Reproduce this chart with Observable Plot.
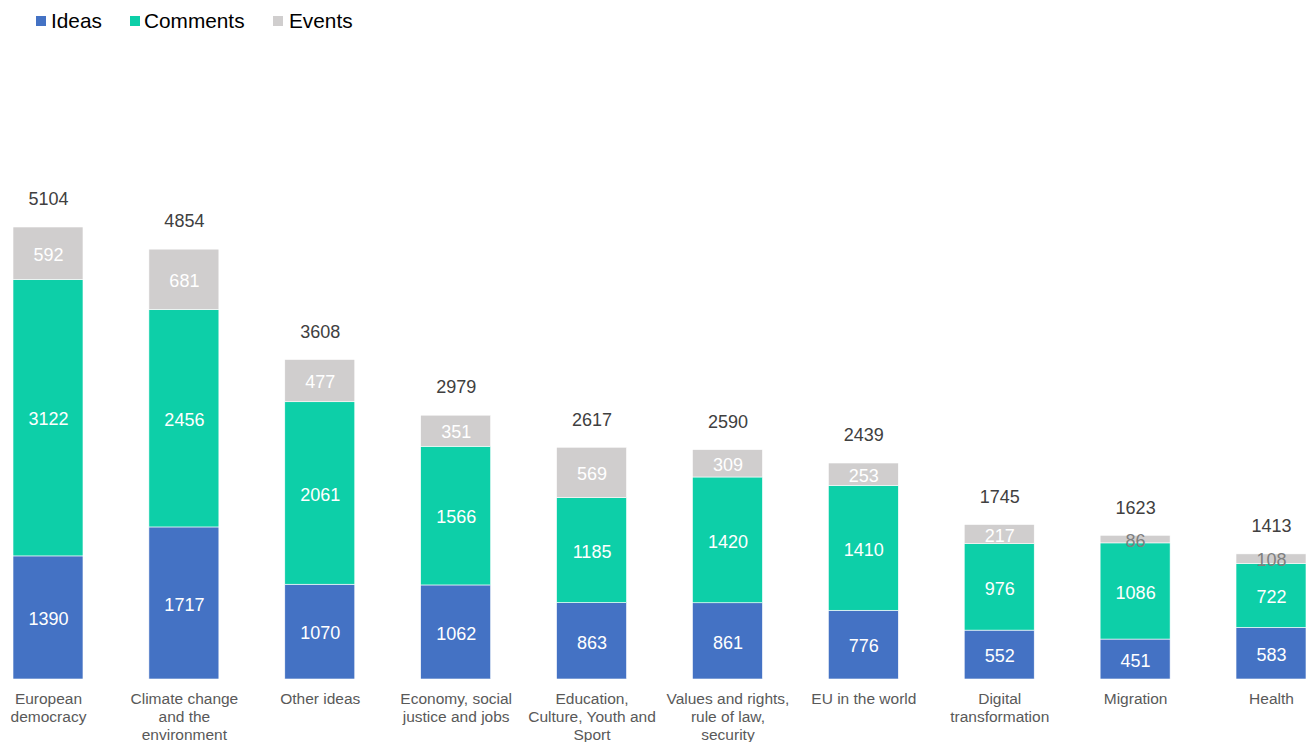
<!DOCTYPE html>
<html>
<head>
<meta charset="utf-8">
<script src="https://cdn.jsdelivr.net/npm/d3@7"></script>
<script src="https://cdn.jsdelivr.net/npm/@observablehq/plot@0.6"></script>
<style>
  html, body { margin: 0; padding: 0; background: #fff; }
  body { width: 1309px; height: 742px; overflow: hidden; font-family: "Liberation Sans", Arial, sans-serif; }
  #legend { position: relative; height: 42px; }
  .sw { position: absolute; top: 16px; width: 10px; height: 10px; }
  .lt { position: absolute; top: 9px; font-size: 20.8px; line-height: 24px; color: #000; }
  #chart svg { display: block; }
</style>
</head>
<body>
<div id="legend"></div>
<div id="chart"></div>
<script>
const categories = ["European democracy", "Climate change and the environment", "Other ideas", "Economy, social justice and jobs", "Education, Culture, Youth and Sport", "Values and rights, rule of law, security", "EU in the world", "Digital transformation", "Migration", "Health"];
const tickLabels = ["European\ndemocracy", "Climate change\nand the\nenvironment", "Other ideas", "Economy, social\njustice and jobs", "Education,\nCulture, Youth and\nSport", "Values and rights,\nrule of law,\nsecurity", "EU in the world", "Digital\ntransformation", "Migration", "Health"];
const series = ["Ideas", "Comments", "Events"];
const ideas = [1390, 1717, 1070, 1062, 863, 861, 776, 552, 451, 583];
const comments = [3122, 2456, 2061, 1566, 1185, 1420, 1410, 976, 1086, 722];
const events = [592, 681, 477, 351, 569, 309, 253, 217, 86, 108];
const totals = [5104, 4854, 3608, 2979, 2617, 2590, 2439, 1745, 1623, 1413];
const colors = ["#4472C4", "#0DCFA8", "#D0CECE"];

// legend
const legend = document.getElementById("legend");
const legendPos = [[36, 51], [130, 144], [273, 289]];
series.forEach((s, i) => {
  const sw = document.createElement("div");
  sw.className = "sw"; sw.style.left = legendPos[i][0] + "px"; sw.style.background = colors[i];
  const t = document.createElement("div");
  t.className = "lt"; t.style.left = legendPos[i][1] + "px"; t.textContent = s;
  legend.appendChild(sw); legend.appendChild(t);
});

// tidy table with stacked extents
const valuesBySeries = [ideas, comments, events];
const rows = [];
categories.forEach((c, j) => {
  let acc = 0;
  series.forEach((s, i) => {
    const v = valuesBySeries[i][j];
    rows.push({category: c, series: s, value: v, y1: acc, y2: acc + v});
    acc += v;
  });
});
const totalRows = categories.map((c, j) => ({category: c, total: totals[j]}));
const labelOf = new Map(categories.map((c, j) => [c, tickLabels[j]]));

const chart = Plot.plot({
  width: 1309,
  height: 700,
  marginTop: 185,
  marginBottom: 63,
  marginLeft: 0,
  marginRight: 0,
  style: {fontFamily: "'Liberation Sans', Arial, sans-serif", background: "#fff"},
  x: {type: "band", domain: categories, range: [13, 1306], paddingInner: 0.485, paddingOuter: 0, round: false, axis: null, label: null},
  y: {domain: [0, 5104], axis: null},
  color: {domain: series, range: colors},
  marks: [
    Plot.barY(rows, {x: "category", y1: "y1", y2: "y2", fill: "series", stroke: "#ffffff", strokeWidth: 0.6}),
    Plot.text(rows, {x: "category", y: d => (d.y1 + d.y2) / 2, text: d => String(d.value),
      fill: d => d.value < 150 ? "#7F7F7F" : "#ffffff", fontSize: 18, dy: 1.5}),
    Plot.text(totalRows, {x: "category", y: "total", text: d => String(d.total), dy: -28, fill: "#404040", fontSize: 18}),
    Plot.axisX({tickSize: 0, tickPadding: 12, label: null, tickFormat: d => labelOf.get(d), fontSize: 15.5, fill: "#595959", lineHeight: 1.16})
  ]
});
document.getElementById("chart").appendChild(chart);
</script>
</body>
</html>
